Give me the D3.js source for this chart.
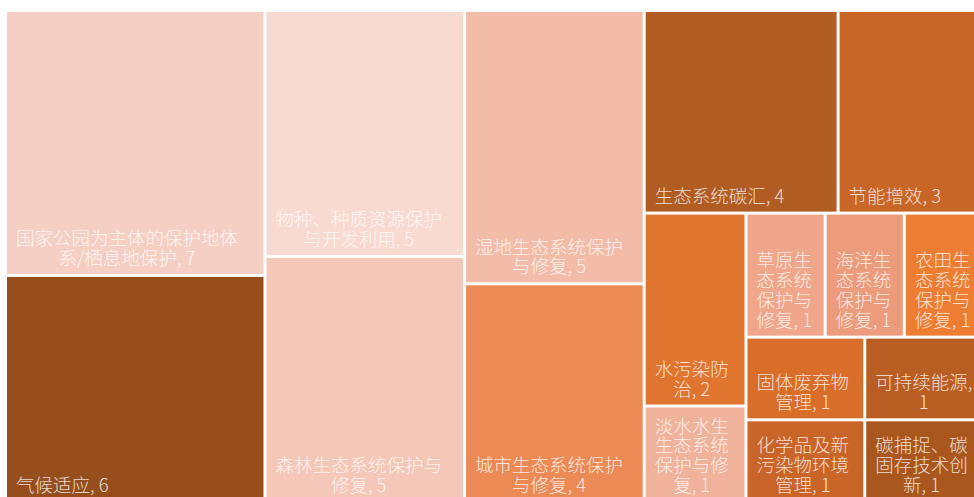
<!DOCTYPE html>
<html>
<head>
<meta charset="utf-8">
<script src="https://cdn.jsdelivr.net/npm/d3@7"></script>
<style>
  html, body { margin: 0; padding: 0; background: #fff; }
  svg { display: block; }
</style>
</head>
<body>
<div id="wrapper"></div>
<script>
// topics and how many items fall in each
const names = [
  "国家公园为主体的保护地体系/栖息地保护",
  "气候适应",
  "物种、种质资源保护与开发利用",
  "森林生态系统保护与修复",
  "湿地生态系统保护与修复",
  "城市生态系统保护与修复",
  "生态系统碳汇",
  "节能增效",
  "水污染防治",
  "淡水水生生态系统保护与修复",
  "草原生态系统保护与修复",
  "海洋生态系统保护与修复",
  "农田生态系统保护与修复",
  "固体废弃物管理",
  "化学品及新污染物环境管理",
  "可持续能源",
  "碳捕捉、碳固存技术创新"
];
const values = [7, 6, 5, 5, 5, 4, 4, 3, 2, 1, 1, 1, 1, 1, 1, 1, 1];

const palette = [
  "#f5cfc3", "#974e1d", "#f8dad0", "#f4c7b8", "#f3bca9", "#ec8a56",
  "#b05c22", "#c86628", "#e07530", "#f1b29b", "#efa68a", "#ec9b7c",
  "#ed7d33", "#d96e2b", "#ca6529", "#b95e23", "#a9561f"
];

// strips the way the spreadsheet laid them out: [count, direction]
const strips = [[2, "col"], [2, "col"], [2, "col"], [2, "row"], [2, "col"], [3, "row"], [2, "col"], [2, "col"]];

const dimensions = {
  width: 974,
  height: 497,
  left: 7,
  top: 12,
  treeWidth: 975,
  treeHeight: 489
};

const fontSize = 18.5;
const lineHeight = 19.8;
const padX = 9;
const padBottom = 9;

function stripTile(parent, x0, y0, x1, y1) {
  const nodes = parent.children;
  let value = parent.value;
  let i = 0, s = 0;
  while (i < nodes.length) {
    const [count, dir] = strips[s++] || [nodes.length - i, "col"];
    const kids = nodes.slice(i, i + count);
    const row = { children: kids, value: d3.sum(kids, d => d.value) };
    if (dir === "row") {
      const y = y0 + (y1 - y0) * row.value / value;
      d3.treemapDice(row, x0, y0, x1, y);
      y0 = y;
    } else {
      const x = x0 + (x1 - x0) * row.value / value;
      d3.treemapSlice(row, x0, y0, x, y1);
      x0 = x;
    }
    value -= row.value;
    i += count;
  }
}

const data = {
  name: "root",
  children: names.map((n, i) => ({ name: n, value: values[i], color: palette[i] }))
};

const root = d3.hierarchy(data).sum(d => d.value || 0);

d3.treemap()
  .size([dimensions.treeWidth, dimensions.treeHeight])
  .paddingInner(3)
  .tile(stripTile)(root);

const svg = d3.select("#wrapper")
  .append("svg")
  .attr("width", dimensions.width)
  .attr("height", dimensions.height);

const bounds = svg.append("g")
  .attr("transform", `translate(${dimensions.left},${dimensions.top})`);

const cells = bounds.selectAll("g.cell")
  .data(root.leaves())
  .join("g")
  .attr("class", "cell")
  .attr("transform", d => `translate(${d.x0},${d.y0})`);

cells.append("rect")
  .attr("width", d => d.x1 - d.x0)
  .attr("height", d => d.y1 - d.y0)
  .attr("fill", d => d.data.color);

// wrap labels: CJK chars break anywhere, trailing punctuation hangs
const tokenRe = /[\u4e00-\u9fff][、，。,]?|[^\s\u4e00-\u9fff]+|\s+/g;
const measurer = svg.append("text")
  .style("font-family", "'Noto Sans CJK SC', sans-serif")
  .style("font-size", fontSize + "px")
  .style("font-weight", 300)
  .attr("visibility", "hidden");
const textWidth = s => measurer.text(s).node().getComputedTextLength();

function wrap(label, maxW) {
  const tokens = label.match(tokenRe);
  const lines = [];
  let line = "";
  tokens.forEach(t => {
    const candidate = (line + t).replace(/^\s+/, "");
    const check = candidate.replace(/[、，。,\s]+$/, "");
    if (line.trim() && textWidth(check) > maxW) {
      lines.push(line.trim());
      line = t.trim() ? t : "";
    } else {
      line = candidate;
    }
  });
  if (line.trim()) lines.push(line.trim());
  return lines;
}

cells.each(function(d) {
  const w = d.x1 - d.x0;
  const h = d.y1 - d.y0;
  const lines = wrap(`${d.data.name}, ${d.data.value}`, w - 2 * padX);
  const blockW = d3.max(lines, textWidth);
  const text = d3.select(this).append("text")
    .style("font-family", "'Noto Sans CJK SC', sans-serif")
    .style("font-size", fontSize + "px")
    .style("font-weight", 300)
    .attr("fill", "#ffffff")
    .attr("fill-opacity", 0.8)
    .attr("text-anchor", "middle");
  lines.forEach((l, k) => {
    text.append("tspan")
      .attr("x", padX + blockW / 2)
      .attr("y", h - padBottom - (lines.length - 1 - k) * lineHeight)
      .text(l);
  });
});

measurer.remove();
</script>
</body>
</html>
